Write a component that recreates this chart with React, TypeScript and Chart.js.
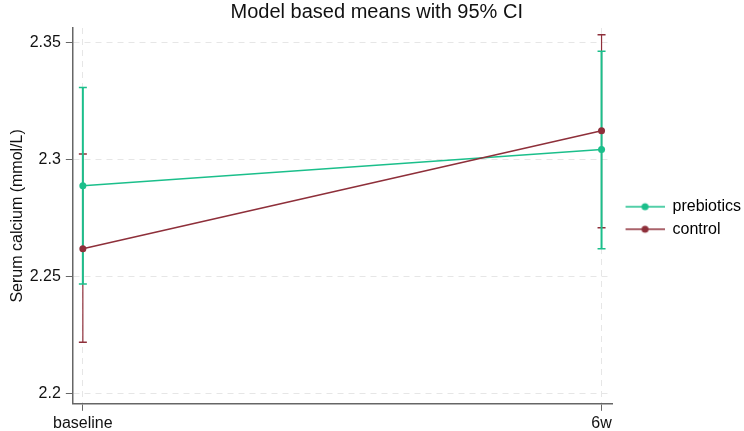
import React, { useEffect, useRef } from "react";
import { Chart, registerables } from "chart.js";

Chart.register(...registerables);

const categories = ["baseline", "6w"];
const xPositions = [0, 1];
const prebioticsMean = [2.289, 2.3045];
const prebioticsLower = [2.247, 2.262];
const prebioticsUpper = [2.331, 2.3465];
const controlMean = [2.262, 2.3125];
const controlLower = [2.222, 2.271];
const controlUpper = [2.3025, 2.3535];
const yTickValues = [2.2, 2.25, 2.3, 2.35];
const yTickLabels = ["2.2", "2.25", "2.3", "2.35"];
const seriesNames = ["prebiotics", "control"];

const GREEN = "#1bbf8b";
const RED = "#8e2f3a";
const FONT = "'Liberation Sans', Arial, Helvetica, sans-serif";

function legendSwatch(color: string): HTMLCanvasElement {
  const c = document.createElement("canvas");
  c.width = 46;
  c.height = 10;
  const ctx = c.getContext("2d")!;
  ctx.strokeStyle = color;
  ctx.lineWidth = 1.5;
  ctx.beginPath();
  ctx.moveTo(7, 5);
  ctx.lineTo(46, 5);
  ctx.stroke();
  ctx.fillStyle = color;
  ctx.beginPath();
  ctx.arc(26.5, 5, 3.5, 0, Math.PI * 2);
  ctx.fill();
  return c;
}

export default function App() {
  const ref = useRef<HTMLCanvasElement | null>(null);

  useEffect(() => {
    if (!ref.current) return;
    Chart.defaults.font.family = FONT;
    Chart.defaults.color = "#111";

    const ciSet = (lower: number[], upper: number[], i: number, color: string, width: number, order: number) => ({
      label: "ci",
      data: [
        { x: xPositions[i], y: lower[i] },
        { x: xPositions[i], y: upper[i] },
      ],
      borderColor: color,
      backgroundColor: color,
      borderWidth: width,
      pointStyle: "line",
      pointRadius: 4,
      pointBorderWidth: 1.5,
      pointHoverRadius: 4,
      showLine: true,
      order,
    });

    const meanSet = (name: string, values: number[], color: string, order: number) => ({
      label: name,
      data: values.map((v, i) => ({ x: xPositions[i], y: v })),
      borderColor: color,
      backgroundColor: color,
      borderWidth: 1.5,
      pointRadius: 3.5,
      pointBorderWidth: 0,
      pointBackgroundColor: color,
      showLine: true,
      order,
    });

    const swatches = [legendSwatch(GREEN), legendSwatch(RED)];

    const chart = new Chart(ref.current, {
      type: "line",
      data: {
        datasets: [
          meanSet(seriesNames[1], controlMean, RED, 1),
          meanSet(seriesNames[0], prebioticsMean, GREEN, 2),
          ciSet(prebioticsLower, prebioticsUpper, 0, GREEN, 2, 3),
          ciSet(prebioticsLower, prebioticsUpper, 1, GREEN, 2, 3),
          ciSet(controlLower, controlUpper, 0, RED, 1.2, 4),
          ciSet(controlLower, controlUpper, 1, RED, 1.2, 4),
        ] as any,
      },
      options: {
        responsive: false,
        animation: false,
        devicePixelRatio: 1,
        layout: { padding: { left: 2.5, right: -7, top: 0, bottom: -5 } },
        plugins: {
          tooltip: { enabled: false },
          title: {
            display: true,
            text: "Model based means with 95% CI",
            color: "#111",
            font: { size: 20, weight: "normal", family: FONT },
            padding: { top: 0, bottom: 4 },
          },
          legend: {
            display: true,
            position: "right",
            labels: {
              usePointStyle: true,
              pointStyleWidth: 46,
              padding: 6.5,
              color: "#111",
              font: { size: 16, family: FONT },
              generateLabels: () =>
                seriesNames.map((name, i) => ({
                  text: name,
                  pointStyle: swatches[i],
                  fillStyle: i === 0 ? GREEN : RED,
                  strokeStyle: i === 0 ? GREEN : RED,
                  lineWidth: 0,
                  hidden: false,
                  datasetIndex: i === 0 ? 1 : 0,
                })) as any,
            },
          },
        },
        scales: {
          x: {
            type: "linear",
            min: -0.0193,
            max: 1.0202,
            afterBuildTicks: (axis: any) => {
              axis.ticks = xPositions.map((v) => ({ value: v }));
            },
            ticks: {
              autoSkip: false,
              maxRotation: 0,
              padding: 3,
              color: "#111",
              font: { size: 16 },
              callback: (v: any) => {
                const idx = xPositions.indexOf(Number(v));
                return idx >= 0 ? categories[idx] : "";
              },
            },
            grid: {
              color: "#e6e6e6",
              lineWidth: 1,
              drawTicks: true,
              tickLength: 7,
              tickColor: "#666",
              tickWidth: 1,
            },
            border: { display: true, color: "#666", width: 1.5, dash: [6, 5] },
          },
          y: {
            type: "linear",
            min: 2.19573,
            max: 2.35641,
            afterBuildTicks: (axis: any) => {
              axis.ticks = yTickValues.map((v) => ({ value: v }));
            },
            ticks: {
              autoSkip: false,
              padding: 5,
              color: "#111",
              font: { size: 16 },
              callback: (v: any) => {
                const idx = yTickValues.findIndex((t) => Math.abs(t - Number(v)) < 1e-9);
                return idx >= 0 ? yTickLabels[idx] : "";
              },
            },
            title: {
              display: true,
              text: "Serum calcium (mmol/L)",
              color: "#111",
              font: { size: 16 },
              padding: { top: 5, bottom: -2 },
            },
            grid: {
              color: "#e6e6e6",
              lineWidth: 1,
              drawTicks: true,
              tickLength: 7,
              tickColor: "#666",
              tickWidth: 1,
            },
            border: { display: true, color: "#666", width: 1.5, dash: [6, 5] },
          },
        },
      } as any,
    });

    return () => chart.destroy();
  }, []);

  return (
    <div style={{ position: "absolute", left: 0, top: 0, width: 744, height: 431, background: "#fff" }}>
      <canvas ref={ref} width={744} height={431} />
    </div>
  );
}
